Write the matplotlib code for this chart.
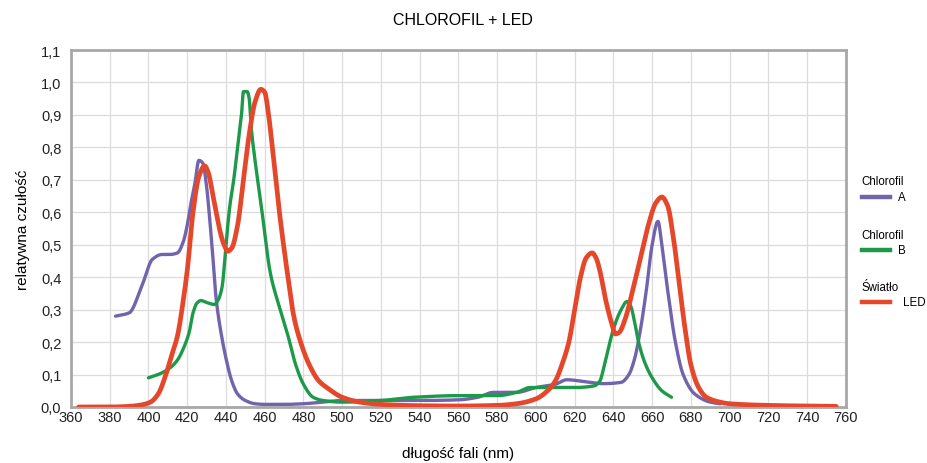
import numpy as np
import matplotlib
matplotlib.use("Agg")
import matplotlib.pyplot as plt
from matplotlib.lines import Line2D
from matplotlib.ticker import FuncFormatter

plt.rcParams['font.family'] = ['Liberation Sans', 'DejaVu Sans']

# chlorofil A (purple)
wl_a = [383, 390, 397, 402, 407, 411, 415, 418, 420, 422, 424, 426, 428, 430, 431, 433,
        435, 438, 440, 443, 446, 450, 455, 460, 470, 480, 490, 500, 520, 540, 560, 570,
        578, 590, 600, 610, 616, 625, 635, 644, 648, 651, 654, 657, 660, 663, 665, 668,
        672, 676, 682, 690, 695]
val_a = [0.28, 0.29, 0.38, 0.455, 0.47, 0.47, 0.475, 0.51, 0.56, 0.63, 0.69, 0.76, 0.752,
         0.68, 0.62, 0.48, 0.33, 0.21, 0.15, 0.08, 0.04, 0.02, 0.01, 0.008, 0.008, 0.01,
         0.015, 0.02, 0.02, 0.02, 0.022, 0.03, 0.045, 0.045, 0.06, 0.07, 0.084, 0.078,
         0.072, 0.076, 0.1, 0.15, 0.24, 0.36, 0.5, 0.572, 0.5, 0.36, 0.2, 0.1, 0.04,
         0.015, 0.01]

# chlorofil B (green)
wl_b = [400, 405, 411, 415, 418, 421, 423, 425, 427, 430, 434, 436, 438, 440, 442, 444,
        446, 448, 449, 451, 452, 453, 455, 458, 463, 468, 472, 476, 480, 485, 490, 500,
        520, 537, 560, 580, 590, 597, 610, 620, 630, 633, 635, 637, 640, 644, 647, 649,
        651, 653, 656, 660, 665, 670]
val_b = [0.09, 0.1, 0.12, 0.145, 0.18, 0.23, 0.29, 0.32, 0.328, 0.322, 0.316, 0.33, 0.37,
         0.5, 0.62, 0.7, 0.8, 0.9, 0.972, 0.972, 0.95, 0.864, 0.76, 0.63, 0.41, 0.3, 0.22,
         0.13, 0.07, 0.03, 0.02, 0.015, 0.02, 0.03, 0.035, 0.035, 0.045, 0.06, 0.06, 0.06,
         0.065, 0.08, 0.12, 0.17, 0.24, 0.3, 0.325, 0.31, 0.26, 0.2, 0.14, 0.09, 0.05, 0.03]

# swiatlo LED (red)
wl_led = [364, 380, 390, 396, 401, 405, 409, 412, 415, 418, 420, 423, 426, 429, 431, 433,
          435, 437, 439, 441, 443, 446, 449, 452, 455, 458, 460, 462, 465, 468, 472, 475,
          478, 483, 488, 492, 500, 509, 520, 540, 560, 580, 590, 600, 606, 610, 614, 617,
          620, 623, 626, 629, 631, 633, 636, 639, 641, 643, 646, 650, 654, 658, 662, 665,
          668, 671, 674, 677, 680, 684, 688, 695, 700, 720, 740, 755]
val_led = [0.0, 0.0, 0.002, 0.006, 0.015, 0.04, 0.1, 0.16, 0.22, 0.33, 0.42, 0.6, 0.71,
           0.743, 0.72, 0.66, 0.6, 0.54, 0.5, 0.48, 0.49, 0.56, 0.7, 0.84, 0.94, 0.979,
           0.97, 0.9, 0.74, 0.58, 0.4, 0.28, 0.21, 0.13, 0.08, 0.06, 0.03, 0.015, 0.008,
           0.004, 0.003, 0.005, 0.01, 0.025, 0.05, 0.08, 0.14, 0.2, 0.3, 0.4, 0.46, 0.475,
           0.46, 0.42, 0.33, 0.26, 0.225, 0.23, 0.27, 0.36, 0.46, 0.56, 0.63, 0.647, 0.62,
           0.52, 0.38, 0.24, 0.13, 0.06, 0.03, 0.015, 0.01, 0.005, 0.003, 0.002]

purple = '#7263ad'
green = '#1c9a4a'
red = '#e5472b'


def smooth(x, y, n=1500):
    # monotone cubic (pchip) so the curves look drawn, not polygonal
    x = np.asarray(x, float)
    y = np.asarray(y, float)
    h = np.diff(x)
    d = np.diff(y) / h
    m = np.zeros_like(y)
    for k in range(1, len(x) - 1):
        if d[k - 1] * d[k] > 0:
            w1 = 2 * h[k] + h[k - 1]
            w2 = h[k] + 2 * h[k - 1]
            m[k] = (w1 + w2) / (w1 / d[k - 1] + w2 / d[k])
    m[0] = d[0]
    m[-1] = d[-1]
    xs = np.linspace(x[0], x[-1], n)
    i = np.clip(np.searchsorted(x, xs) - 1, 0, len(x) - 2)
    t = (xs - x[i]) / h[i]
    ys = ((2 * t**3 - 3 * t**2 + 1) * y[i] + (t**3 - 2 * t**2 + t) * h[i] * m[i]
          + (-2 * t**3 + 3 * t**2) * y[i + 1] + (t**3 - t**2) * h[i] * m[i + 1])
    return xs, ys


fig = plt.figure(figsize=(9.28, 4.64), dpi=100)
ax = fig.add_axes([0.0765, 0.1207, 0.835, 0.7693])

ax.plot(*smooth(wl_a, val_a), color=purple, lw=2.4, solid_capstyle='round', zorder=3)
ax.plot(*smooth(wl_b, val_b), color=green, lw=2.4, solid_capstyle='round', zorder=3)
ax.plot(*smooth(wl_led, val_led), color=red, lw=3.4, solid_capstyle='round', zorder=4)

ax.set_xlim(360, 760)
ax.set_ylim(0, 1.1)
ax.set_xticks(np.arange(360, 761, 20))
ax.set_yticks(np.arange(0, 1.101, 0.1))
ax.yaxis.set_major_formatter(FuncFormatter(lambda v, p: f"{v:.1f}".replace('.', ',')))
ax.grid(True, color='#dcdcdc', lw=0.9)
ax.set_axisbelow(True)
ax.tick_params(length=0, labelsize=10.5, labelcolor='#222222')
ax.tick_params(axis='y', pad=7)
ax.tick_params(axis='x', pad=2)
for s in ax.spines.values():
    s.set_color('#a8a8a8')
    s.set_linewidth(2)

ax.set_xlabel('długość fali (nm)', fontsize=11, labelpad=16)
ax.set_ylabel('relatywna czułość', fontsize=11, labelpad=8)
fig.text(0.499, 0.955, 'CHLOROFIL + LED', ha='center', va='center', fontsize=11.5)

# legend on the right
entries = [('Chlorofil', 'A', purple, 0.607), ('Chlorofil', 'B', green, 0.491),
           ('Światło', 'LED', red, 0.379)]
for top, bottom, col, y in entries:
    fig.text(0.928, y, top, fontsize=8.3, va='center', ha='left')
    fig.add_artist(Line2D([0.929, 0.959], [y - 0.033, y - 0.033], color=col, lw=3.2,
                          transform=fig.transFigure))
    fig.text(0.997 if bottom == 'LED' else 0.968, y - 0.033, bottom, fontsize=8.3,
             va='center', ha='right' if bottom == 'LED' else 'left')

fig.savefig('out.png', dpi=100)
